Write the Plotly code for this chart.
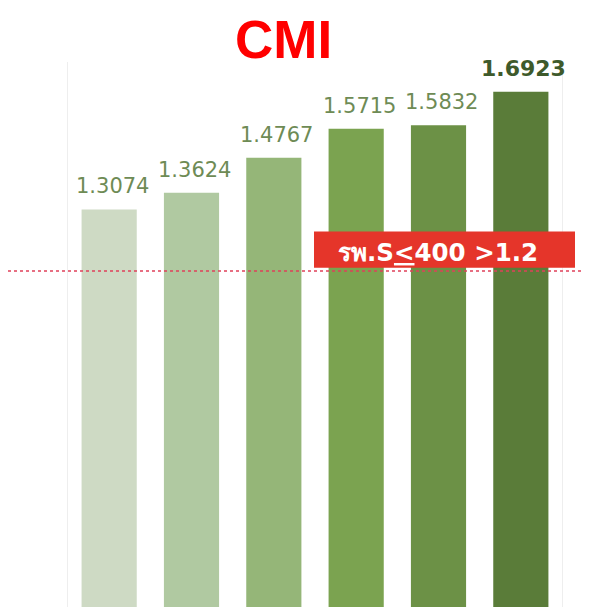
import plotly.graph_objects as go

categories = ["A", "B", "C", "D", "E", "F"]
cmi_values = [1.3074, 1.3624, 1.4767, 1.5715, 1.5832, 1.6923]
value_labels = ["1.3074", "1.3624", "1.4767", "1.5715", "1.5832", "1.6923"]
target_value = 1.106
target_label = "รพ.S<u>&lt;</u>400 >1.2"
title_text = "CMI"

bar_colors = ["#cedac4", "#b0c9a1", "#95b678", "#7ba350", "#6c9146", "#5a7c39"]

# figure geometry (page body has an 8px margin)
W, H = 582, 599
L, R, T, B = 60, 28, 54, 0
PW = W - L - R

fig = go.Figure()
fig.add_trace(go.Bar(
    x=categories, y=cmi_values,
    marker=dict(color=bar_colors, line=dict(width=0)),
    width=0.67, hoverinfo="skip",
))

annotations = []
for i, (c, v, t) in enumerate(zip(categories, cmi_values, value_labels)):
    last = i == len(categories) - 1
    annotations.append(dict(
        x=c, y=v, xref="x", yref="y", text=("<b>%s</b>" % t) if last else t,
        showarrow=False, yanchor="middle", yshift=23, xshift=3,
        font=dict(family="DejaVu Sans", size=22 if last else 21,
                  color="#3e5a2b" if last else "#6e8b55"),
    ))

# target label box (rectangle) and text
fig.add_shape(type="rect", xref="paper", yref="y",
              x0=(306 - L) / PW, x1=(567 - L) / PW, y0=1.117, y1=1.235,
              fillcolor="#e5352a", line=dict(width=0), layer="above")
annotations.append(dict(
    x=(430 - L) / PW, y=1.167, xref="paper", yref="y",
    text="<b>%s</b>" % target_label, showarrow=False,
    font=dict(family="DejaVu Sans, Noto Sans", size=24.5, color="white"),
    xanchor="center", yanchor="middle",
))

# title
annotations.append(dict(
    x=(275 - L) / PW, y=1.0, xref="paper", yref="paper", yshift=T,
    text="<b>%s</b>" % title_text, showarrow=False,
    font=dict(family="Liberation Sans", size=53, color="#ff0000"),
    xanchor="center", yanchor="top",
))

fig.add_shape(type="line", xref="paper", yref="y",
              x0=-L / PW, x1=(W - L) / PW, y0=target_value, y1=target_value,
              line=dict(color="#e0405a", width=1.5, dash="dot"), layer="above")

fig.update_layout(
    width=W, height=H,
    margin=dict(l=L, r=R, t=T, b=B),
    paper_bgcolor="white", plot_bgcolor="white",
    showlegend=False,
    bargap=0.33,
    annotations=annotations,
    xaxis=dict(type="category", showticklabels=False, showgrid=False, zeroline=False,
               showline=False, range=[-0.5, 5.5]),
    yaxis=dict(range=[0.0065, 1.79], showticklabels=False, showgrid=False,
               zeroline=False, showline=True, mirror=True,
               linecolor="#eeeeee", linewidth=1),
)

fig.write_html("out.html")
